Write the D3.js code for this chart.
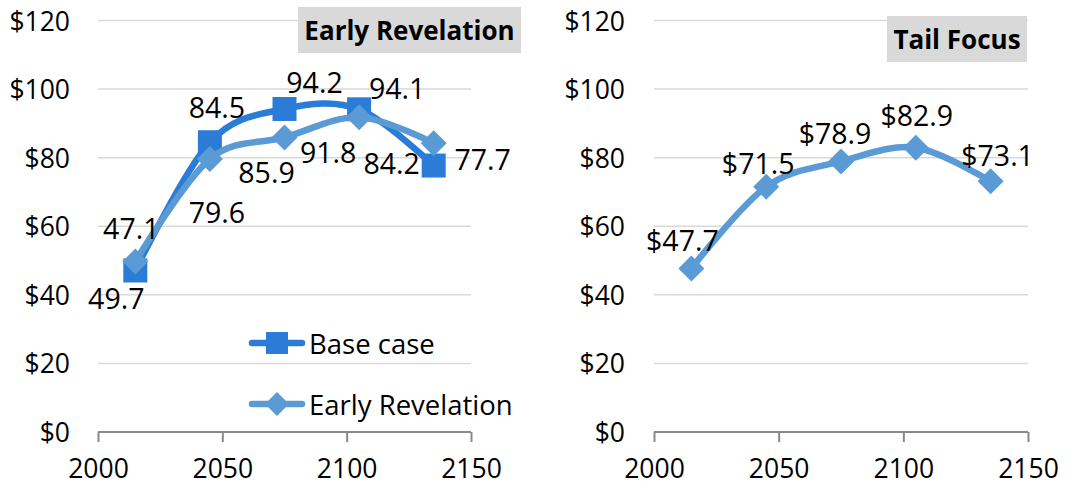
<!DOCTYPE html>
<html>
<head>
<meta charset="utf-8">
<script src="https://cdn.jsdelivr.net/npm/d3@7/dist/d3.min.js"></script>
<style>
  html, body { margin: 0; padding: 0; background: #fff; }
  svg { display: block; }
  text { font-family: "Open Sans", "Noto Sans", sans-serif; fill: #000; }
</style>
</head>
<body>
<svg id="chart" width="1078" height="493"></svg>
<script>
// ---- data ----
const years = [2015, 2045, 2075, 2105, 2135];
const baseCase = [47.1, 84.5, 94.2, 94.1, 77.7];
const earlyRevelation = [49.7, 79.6, 85.9, 91.8, 84.2];
const tailFocus = [47.7, 71.5, 78.9, 82.9, 73.1];
const yTicks = [0, 20, 40, 60, 80, 100, 120];
const xTicks = [2000, 2050, 2100, 2150];
const leftTitle = "Early Revelation";
const rightTitle = "Tail Focus";
const legendNames = ["Base case", "Early Revelation"];

// ---- layout (label offsets in px relative to points) ----
const offBase = [[-4,-42],[7,-35],[30,-27],[38,-21],[49,-7]];
const offER = [[-19,36],[7,53],[-18,35],[-31,35],[-42,20]];
const offTail = [[-9,-28],[-8,-24],[-6,-28],[1,-33],[7,-26]];

const colBase = "#2B7CD6";
const colER = "#5B9BD5";
const svg = d3.select("#chart");

function panel(x0, x1, tickLabelX) {
  const x = d3.scaleLinear().domain([2000, 2150]).range([x0, x1]);
  const y = d3.scaleLinear().domain([0, 120]).range([432, 20.5]);
  const g = svg.append("g");
  g.selectAll("line.grid").data(yTicks.filter(t => t > 0)).enter().append("line")
    .attr("x1", x0).attr("x2", x1)
    .attr("y1", d => y(d)).attr("y2", d => y(d))
    .attr("stroke", "#d9d9d9").attr("stroke-width", 1.5);
  g.selectAll("text.yl").data(yTicks).enter().append("text")
    .attr("x", tickLabelX).attr("y", d => y(d))
    .attr("text-anchor", "end").attr("dominant-baseline", "central")
    .attr("font-size", 26.5)
    .text(d => "$" + d);
  const ax = g.append("g").attr("transform", `translate(0,${y(0)})`)
    .call(d3.axisBottom(x).tickValues(xTicks).tickSize(10).tickFormat(d3.format("d")));
  ax.select(".domain").attr("stroke", "#898989").attr("stroke-width", 2).attr("d", `M${x0},0H${x1}`);
  ax.selectAll(".tick line").attr("stroke", "#898989").attr("stroke-width", 2);
  ax.selectAll(".tick text").attr("font-size", 26.5).attr("font-family", "Open Sans, sans-serif")
    .attr("fill", "#000").attr("dy", "0.71em").attr("y", 27);
  return { g, x, y };
}

function drawSeries(p, vals, color, shape) {
  const line = d3.line().x((d, i) => p.x(years[i])).y(d => p.y(d)).curve(d3.curveCardinal.tension(0));
  p.g.append("path").datum(vals).attr("d", line)
    .attr("fill", "none").attr("stroke", color).attr("stroke-width", 6.5).attr("stroke-linejoin", "round");
  const sq = d3.symbol().type(d3.symbolSquare).size(24 * 24);
  p.g.selectAll(null).data(vals).enter().append("path")
    .attr("transform", (d, i) => `translate(${p.x(years[i])},${p.y(d)})`)
    .attr("d", shape === "square" ? sq() : "M0,-13L13,0L0,13L-13,0Z")
    .attr("fill", color);
}

function drawLabels(p, vals, offs, prefix) {
  p.g.selectAll(null).data(vals).enter().append("text")
    .attr("x", (d, i) => p.x(years[i]) + offs[i][0])
    .attr("y", (d, i) => p.y(d) + offs[i][1])
    .attr("text-anchor", "middle").attr("dominant-baseline", "central")
    .attr("font-size", 28.5)
    .text(d => prefix + d.toFixed(1));
}

function titleBox(p, x0, x1, y0, y1, label) {
  p.g.append("rect").attr("x", x0).attr("y", y0).attr("width", x1 - x0).attr("height", y1 - y0)
    .attr("fill", "#d9d9d9");
  p.g.append("text").attr("x", (x0 + x1) / 2).attr("y", (y0 + y1) / 2)
    .attr("text-anchor", "middle").attr("dominant-baseline", "central")
    .attr("font-size", 26).attr("font-weight", "bold").text(label);
}

// left panel
const L = panel(98, 471, 70);
titleBox(L, 298, 521, 7, 53, leftTitle);
drawSeries(L, baseCase, colBase, "square");
drawSeries(L, earlyRevelation, colER, "diamond");
drawLabels(L, baseCase, offBase, "");
drawLabels(L, earlyRevelation, offER, "");

// legend
const legendY = [343, 404];
const legendCols = [colBase, colER];
legendNames.forEach((name, i) => {
  const gy = legendY[i];
  L.g.append("line").attr("x1", 252).attr("x2", 302).attr("y1", gy).attr("y2", gy)
    .attr("stroke", legendCols[i]).attr("stroke-width", 6.5).attr("stroke-linecap", "round");
  if (i === 0) {
    L.g.append("rect").attr("x", 277 - 11).attr("y", gy - 11).attr("width", 22).attr("height", 22).attr("fill", colBase);
  } else {
    L.g.append("path").attr("transform", `translate(277,${gy})`).attr("d", "M0,-12L12,0L0,12L-12,0Z").attr("fill", colER);
  }
  L.g.append("text").attr("x", 309).attr("y", gy).attr("dominant-baseline", "central")
    .attr("font-size", 27.5).text(name);
});

// right panel
const R = panel(654, 1028, 625);
titleBox(R, 887, 1027, 16, 62, rightTitle);
drawSeries(R, tailFocus, colER, "diamond");
drawLabels(R, tailFocus, offTail, "$");
</script>
</body>
</html>
